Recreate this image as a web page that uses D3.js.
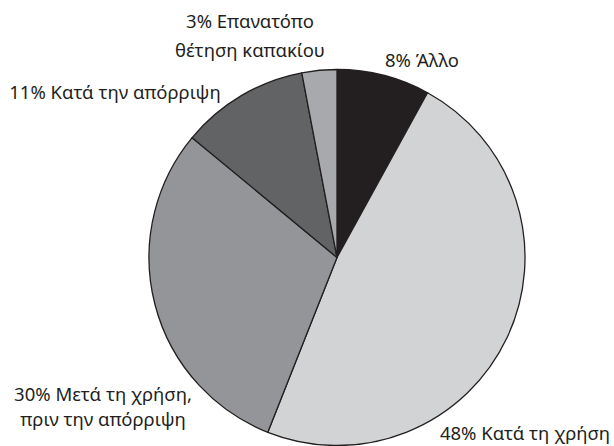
<!DOCTYPE html>
<html>
<head>
<meta charset="utf-8">
<script src="https://cdn.jsdelivr.net/npm/d3@7"></script>
<style>
  html, body { margin: 0; padding: 0; background: #ffffff; }
  svg { display: block; }
</style>
</head>
<body>
<svg id="chart" width="614" height="446"></svg>
<script>
// ---- data ----
const categories = ["Άλλο", "Κατά τη χρήση", "Μετά τη χρήση, πριν την απόρριψη", "Κατά την απόρριψη", "Επανατόπο θέτηση καπακίου"];
const values = [8, 48, 30, 11, 3];
const labelLines = [
  ["8% Άλλο"],
  ["48% Κατά τη χρήση"],
  ["30% Μετά τη χρήση,", "πριν την απόρριψη"],
  ["11% Κατά την απόρριψη"],
  ["3% Επανατόπο", "θέτηση καπακίου"]
];
const colors = ["#231f20", "#d1d3d4", "#939598", "#626365", "#a8a9ad"];

// ---- layout ----
const W = 614, H = 446;
const cx = 337, cy = 257.5, R = 188;
const fontSize = 18.5;
// label anchor (center x, first baseline y, line spacing)
const labelPos = [
  { x: 422, y: 67, dy: 0 },
  { x: 525, y: 440, dy: 0 },
  { x: 103, y: 401, dy: 25 },
  { x: 115, y: 99, dy: 0 },
  { x: 250, y: 28, dy: 28.5 }
];

const svg = d3.select("#chart");
const pie = d3.pie().sort(null).value(d => d)(values);
const arc = d3.arc().innerRadius(0).outerRadius(R);
const color = d3.scaleOrdinal().domain(d3.range(values.length)).range(colors);

const g = svg.append("g").attr("transform", `translate(${cx},${cy})`);
g.selectAll("path.slice")
  .data(pie)
  .join("path")
  .attr("class", "slice")
  .attr("d", arc)
  .attr("fill", (d, i) => color(i))
  .attr("stroke", "#231f20")
  .attr("stroke-width", 1.3)
  .attr("stroke-linejoin", "round");

const labels = svg.append("g")
  .attr("font-family", "'Noto Sans', 'Open Sans', sans-serif")
  .attr("font-size", fontSize)
  .attr("fill", "#231f20")
  .attr("text-anchor", "middle");

labels.selectAll("text")
  .data(labelLines)
  .join("text")
  .attr("x", (d, i) => labelPos[i].x)
  .attr("y", (d, i) => labelPos[i].y)
  .each(function(lines, i) {
    d3.select(this).selectAll("tspan")
      .data(lines)
      .join("tspan")
      .attr("x", labelPos[i].x)
      .attr("y", (l, j) => labelPos[i].y + j * labelPos[i].dy)
      .text(l => l);
  });
</script>
</body>
</html>
